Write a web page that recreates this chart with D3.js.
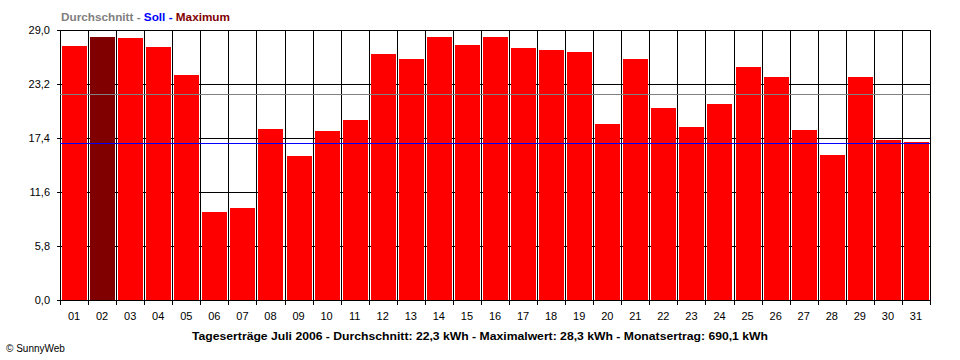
<!DOCTYPE html>
<html>
<head>
<meta charset="utf-8">
<script src="https://cdn.jsdelivr.net/npm/d3@7"></script>
<style>
  body { margin: 0; background: #fff; }
  svg { display: block; font-family: "Liberation Sans", Arial, sans-serif; }
</style>
</head>
<body>
<div id="chart"></div>
<script>
// daily yields, Juli 2006 (kWh)
var days = ["01","02","03","04","05","06","07","08","09","10","11","12","13","14","15","16",
            "17","18","19","20","21","22","23","24","25","26","27","28","29","30","31"];
var yields = [27.3, 28.3, 28.1, 27.2, 24.2, 9.5, 9.9, 18.4, 15.5, 18.1, 19.3, 26.4, 25.9, 28.2, 27.4, 28.2,
              27.1, 26.8, 26.6, 18.9, 25.9, 20.6, 18.6, 21.0, 25.0, 23.9, 18.3, 15.6, 23.9, 17.2, 17.0];
var yTicks = [0, 5.8, 11.6, 17.4, 23.2, 29.0];
var average = 22.1;   // gray line
var target = 16.9;    // "Soll", blue line
var maxDay = "02";
var caption = "Tageserträge Juli 2006 - Durchschnitt: 22,3 kWh - Maximalwert: 28,3 kWh - Monatsertrag: 690,1 kWh";

var width = 960, height = 360;
var margin = { top: 30, right: 30, bottom: 60, left: 60 };

var svg = d3.select("#chart").append("svg")
  .attr("width", width)
  .attr("height", height);

var x = d3.scaleBand().domain(days).range([margin.left, width - margin.right]);
var y = d3.scaleLinear().domain([0, 29]).range([height - margin.bottom, margin.top]);

var fmt = function(v) { return v.toFixed(1).replace(".", ","); };

// horizontal grid + left ticks
var grid = svg.append("g").attr("shape-rendering", "crispEdges").attr("stroke", "#000");
grid.selectAll("line.h")
  .data(yTicks)
  .enter().append("line")
  .attr("class", "h")
  .attr("x1", margin.left - 3)
  .attr("x2", width - margin.right + 0.5)
  .attr("y1", function(d) { return Math.round(y(d)) + 0.5; })
  .attr("y2", function(d) { return Math.round(y(d)) + 0.5; });

// vertical grid at day boundaries, with ticks below the axis
var bounds = days.map(function(d) { return x(d); }).concat([width - margin.right]);
grid.selectAll("line.v")
  .data(bounds)
  .enter().append("line")
  .attr("class", "v")
  .attr("x1", function(d) { return Math.round(d) + 0.5; })
  .attr("x2", function(d) { return Math.round(d) + 0.5; })
  .attr("y1", margin.top)
  .attr("y2", height - margin.bottom + 5);

// bars
svg.append("g").attr("shape-rendering", "crispEdges")
  .selectAll("rect")
  .data(days)
  .enter().append("rect")
  .attr("x", function(d) { return Math.round(x(d)) + 2; })
  .attr("width", Math.round(x.bandwidth()) - 3)
  .attr("y", function(d, i) { return Math.round(y(yields[i])); })
  .attr("height", function(d, i) { return Math.round(y(0)) - Math.round(y(yields[i])); })
  .attr("fill", function(d) { return d === maxDay ? "#800000" : "#ff0000"; });

// average and target lines
svg.append("line")
  .attr("shape-rendering", "crispEdges")
  .attr("x1", margin.left).attr("x2", width - margin.right)
  .attr("y1", Math.round(y(average)) + 0.5).attr("y2", Math.round(y(average)) + 0.5)
  .attr("stroke", "#808080");
svg.append("line")
  .attr("shape-rendering", "crispEdges")
  .attr("x1", margin.left).attr("x2", width - margin.right)
  .attr("y1", Math.round(y(target)) + 0.5).attr("y2", Math.round(y(target)) + 0.5)
  .attr("stroke", "#0000ff");

// y labels
svg.append("g").selectAll("text")
  .data(yTicks)
  .enter().append("text")
  .attr("x", margin.left - 10)
  .attr("y", function(d) { return y(d); })
  .attr("dy", "0.35em")
  .attr("text-anchor", "end")
  .attr("font-size", 11)
  .text(fmt);

// x labels
svg.append("g").selectAll("text")
  .data(days)
  .enter().append("text")
  .attr("x", function(d) { return x(d) + x.bandwidth() / 2; })
  .attr("y", 316)
  .attr("dy", "0.35em")
  .attr("text-anchor", "middle")
  .attr("font-size", 11)
  .text(function(d) { return d; });

// legend
var legend = svg.append("text")
  .attr("x", 61)
  .attr("y", 17)
  .attr("dy", "0.35em")
  .attr("font-size", 11)
  .attr("font-weight", "bold")
  .attr("textLength", 169)
  .attr("lengthAdjust", "spacingAndGlyphs");
legend.append("tspan").attr("fill", "#808080").text("Durchschnitt - ");
legend.append("tspan").attr("fill", "#0000ff").text("Soll - ");
legend.append("tspan").attr("fill", "#800000").text("Maximum");

// caption
svg.append("text")
  .attr("x", 192)
  .attr("y", 336)
  .attr("dy", "0.35em")
  .attr("font-size", 11)
  .attr("font-weight", "bold")
  .attr("textLength", 576)
  .attr("lengthAdjust", "spacingAndGlyphs")
  .text(caption);

svg.append("text")
  .attr("x", 6)
  .attr("y", 348)
  .attr("dy", "0.35em")
  .attr("font-size", 10)
  .text("© SunnyWeb");
</script>
</body>
</html>
